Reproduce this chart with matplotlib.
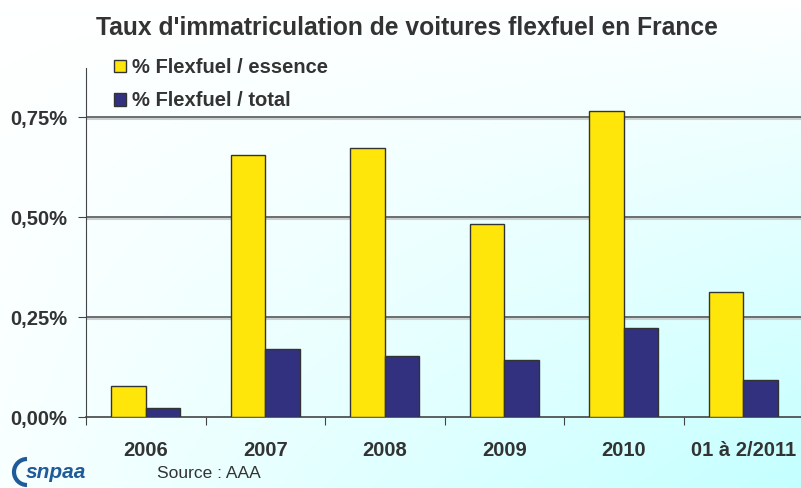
import numpy as np
import matplotlib.pyplot as plt
from matplotlib.patches import Patch, Arc

plt.rcParams['font.family'] = ['Liberation Sans', 'DejaVu Sans']

# Data
categories = ['2006', '2007', '2008', '2009', '2010', '01 à 2/2011']
essence = [0.0775, 0.655, 0.6725, 0.4825, 0.765, 0.3125]
total = [0.0225, 0.17, 0.1525, 0.1425, 0.2225, 0.0925]
yticks = [0.0, 0.25, 0.5, 0.75]
ytick_labels = ['0,00%', '0,25%', '0,50%', '0,75%']

W, H = 801, 488
fig = plt.figure(figsize=(W / 100, H / 100), dpi=100)

# background gradient white -> light cyan (bottom right)
bg = fig.add_axes([0, 0, 1, 1], zorder=-10)
xx, yy = np.meshgrid(np.linspace(0, 1, 200), np.linspace(0, 1, 120))
t = 0.12 * yy + 0.88 * xx * yy ** 0.9
img = np.dstack([1 - 0.23 * t, np.ones_like(t), np.ones_like(t)])
bg.imshow(img, aspect='auto', extent=[0, 1, 0, 1], origin='upper')
bg.axis('off')

ax = fig.add_axes([86 / W, (H - 417) / H, (803 - 86) / W, (417 - 68) / H])
ax.patch.set_alpha(0)

x = np.arange(len(categories))
bw = 0.29
ax.bar(x - bw / 2, essence, bw, color='#FFE60A', edgecolor='#333333', linewidth=1, zorder=3,
       label='% Flexfuel / essence')
ax.bar(x + bw / 2, total, bw, color='#31317F', edgecolor='#333333', linewidth=1, zorder=3,
       label='% Flexfuel / total')

ax.set_xlim(-0.5, len(categories) - 0.5)
ax.set_ylim(0, 0.8725)
ax.set_yticks(yticks)
ax.set_yticklabels(ytick_labels, fontsize=14.5, fontweight='bold', color='#333333')
ax.set_xticks(np.arange(len(categories) + 1) - 0.5, minor=False)
ax.set_xticklabels([])
ax.set_xticks(x, minor=True)
ax.set_xticklabels(categories, minor=True, fontsize=14.5, fontweight='bold', color='#333333')
ax.tick_params(axis='x', which='major', length=6, color='#444444', direction='out')
ax.tick_params(axis='x', which='minor', length=0, pad=17)
ax.tick_params(axis='y', length=6, color='#444444', pad=7.5)

for g in yticks[1:]:
    ax.axhline(g - 0.004, color='#c8d0d0', linewidth=1.5, zorder=1)
    ax.axhline(g, color='#555555', linewidth=1.2, zorder=2)

for s in ['top', 'right']:
    ax.spines[s].set_visible(False)
ax.spines['left'].set_color('#444444')
ax.spines['bottom'].set_color('#444444')
ax.spines['bottom'].set_linewidth(1.2)

handles = [Patch(facecolor='#FFE60A', edgecolor='#333333'),
           Patch(facecolor='#31317F', edgecolor='#333333')]
fig.legend(handles, ['% Flexfuel / essence', '% Flexfuel / total'],
           loc='upper left', bbox_to_anchor=(114 / W, 1 - 58 / H),
           frameon=False, prop={'weight': 'bold', 'size': 14.5},
           handlelength=0.6, handleheight=0.6, handletextpad=0.3,
           labelspacing=0.72, borderpad=0, borderaxespad=0, labelcolor='#333333')

fig.text(407 / W, 1 - 28 / H, "Taux d'immatriculation de voitures flexfuel en France",
         ha='center', va='center', fontsize=17.7, fontweight='bold', color='#333333')

fig.text(157 / W, 1 - 473 / H, 'Source : AAA', ha='left', va='center', fontsize=12.5, color='#333333')

# logo
fig.text(26 / W, 1 - 473 / H, 'snpaa', ha='left', va='center', fontsize=15,
         fontweight='bold', style='italic', color='#1f5a99')
fig.add_artist(Arc((27 / W, 1 - 472 / H), 26 / W, 26 / H, theta1=90, theta2=270,
                   transform=fig.transFigure, color='#1f5a99', linewidth=3))

fig.savefig('out.png', dpi=100)
